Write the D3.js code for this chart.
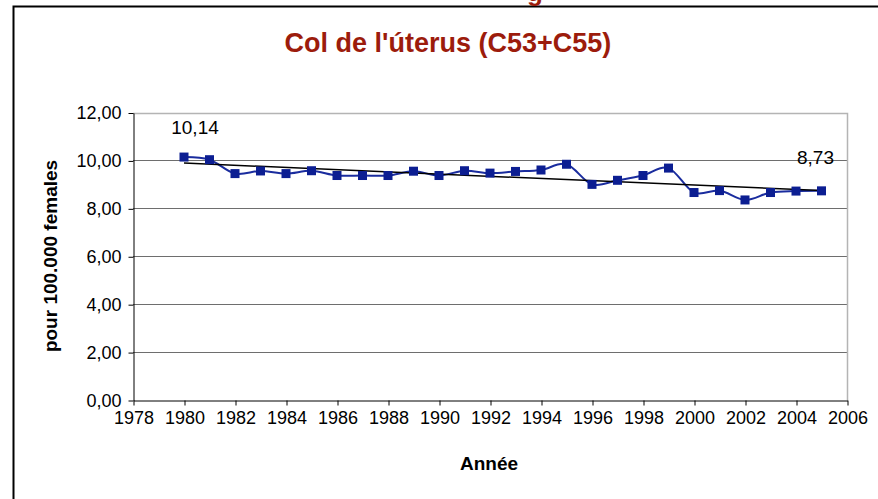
<!DOCTYPE html>
<html>
<head>
<meta charset="utf-8">
<script src="https://cdn.jsdelivr.net/npm/d3@7"></script>
<style>
  body { margin: 0; background: #fff; }
  svg { display: block; font-family: "Liberation Sans", Arial, sans-serif; }
</style>
</head>
<body>
<div id="container"></div>
<script>
// donnees
var annees = [1980, 1981, 1982, 1983, 1984, 1985, 1986, 1987, 1988, 1989, 1990, 1991, 1992,
  1993, 1994, 1995, 1996, 1997, 1998, 1999, 2000, 2001, 2002, 2003, 2004, 2005]
var taux = [10.14, 10.03, 9.45, 9.56, 9.45, 9.57, 9.37, 9.37, 9.37, 9.55, 9.37, 9.57, 9.47,
  9.54, 9.60, 9.84, 9.00, 9.17, 9.37, 9.68, 8.66, 8.74, 8.35, 8.66, 8.72, 8.73]
// tendance (extremites lues)
var tendanceAnnees = [1980, 2005]
var tendanceValeurs = [9.89, 8.74]
var ticksY = [0, 2, 4, 6, 8, 10, 12]
var ticksX = [1978, 1980, 1982, 1984, 1986, 1988, 1990, 1992, 1994, 1996, 1998, 2000, 2002, 2004, 2006]

var ancho = 878
var alto = 499
var fmt = function(v) { return d3.format(".2f")(v).replace(".", ",") }

var svg = d3.select("#container").append("svg")
  .attr("width", ancho)
  .attr("height", alto)

// cadre exterieur
svg.append("path")
  .attr("d", "M13.5," + alto + "V6.5H" + ancho)
  .attr("fill", "none")
  .attr("stroke", "#000")
  .attr("stroke-width", 2)

// morceau du titre precedent, coupe
svg.append("text")
  .attr("x", 535).attr("y", 1)
  .attr("text-anchor", "middle")
  .attr("font-size", 26).attr("font-weight", "bold")
  .attr("fill", "#9c1c0c")
  .text("g")

svg.append("text")
  .attr("x", 448).attr("y", 52)
  .attr("text-anchor", "middle")
  .attr("font-size", 27).attr("font-weight", "bold")
  .attr("fill", "#9c1c0c")
  .text("Col de l'úterus (C53+C55)")

var x = d3.scaleLinear().domain([1978, 2006]).range([133, 847])
var y = d3.scaleLinear().domain([0, 12]).range([400, 112.5])

// grille
svg.append("g").selectAll("line")
  .data(ticksY.filter(function(d) { return d > 0 && d < 12 }))
  .enter().append("line")
  .attr("x1", x(1978)).attr("x2", x(2006))
  .attr("y1", function(d) { return Math.round(y(d)) + 0.5 })
  .attr("y2", function(d) { return Math.round(y(d)) + 0.5 })
  .attr("stroke", "#6e6e6e")

// bords haut et droit
svg.append("path")
  .attr("d", "M" + x(1978) + "," + (Math.round(y(12)) + 0.5) + "H" + (x(2006) + 0.5) + "V" + y(0))
  .attr("fill", "none")
  .attr("stroke", "#b4b4b4")
  .attr("stroke-width", 1.5)

var axeY = svg.append("g")
  .attr("transform", "translate(" + (x(1978) + 0.5) + ",0.5)")
  .call(d3.axisLeft(y).tickValues(ticksY).tickFormat(fmt).tickSizeInner(5).tickSizeOuter(0).tickPadding(7))
axeY.selectAll("text").attr("font-size", 18).attr("fill", "#000").attr("font-family", "Liberation Sans, Arial")
axeY.selectAll("line, path").attr("stroke", "#000")

var axeX = svg.append("g")
  .attr("transform", "translate(0.5," + (y(0) + 0.5) + ")")
  .call(d3.axisBottom(x).tickValues(ticksX).tickFormat(d3.format("d")).tickSizeInner(5).tickSizeOuter(0).tickPadding(6))
axeX.selectAll("text").attr("font-size", 18).attr("fill", "#000").attr("font-family", "Liberation Sans, Arial")
axeX.selectAll("line, path").attr("stroke", "#000")

svg.append("text")
  .attr("x", 489).attr("y", 470)
  .attr("text-anchor", "middle")
  .attr("font-size", 19).attr("font-weight", "bold")
  .text("Année")

svg.append("text")
  .attr("transform", "translate(57,256) rotate(-90)")
  .attr("text-anchor", "middle")
  .attr("font-size", 19).attr("font-weight", "bold")
  .text("pour 100.000 females")

var points = annees.map(function(a, i) { return [a, taux[i]] })

// serie lissee
svg.append("path")
  .datum(points)
  .attr("fill", "none")
  .attr("stroke", "#1a2c9e")
  .attr("stroke-width", 2)
  .attr("d", d3.line()
    .x(function(d) { return x(d[0]) })
    .y(function(d) { return y(d[1]) })
    .curve(d3.curveCardinal.tension(0)))

// tendance
svg.append("path")
  .datum(tendanceAnnees.map(function(a, i) { return [a, tendanceValeurs[i]] }))
  .attr("fill", "none")
  .attr("stroke", "#000")
  .attr("stroke-width", 1.5)
  .attr("d", d3.line()
    .x(function(d) { return x(d[0]) })
    .y(function(d) { return y(d[1]) }))

svg.append("g").selectAll("rect")
  .data(points)
  .enter().append("rect")
  .attr("x", function(d) { return x(d[0]) - 4.5 })
  .attr("y", function(d) { return y(d[1]) - 4.5 })
  .attr("width", 9).attr("height", 9)
  .attr("fill", "#0c1e92")

// etiquettes premier / dernier
var premier = points[0], dernier = points[points.length - 1]
svg.append("text")
  .attr("x", x(premier[0]) + 11).attr("y", y(premier[1]) - 23)
  .attr("text-anchor", "middle")
  .attr("font-size", 19)
  .text(fmt(premier[1]))
svg.append("text")
  .attr("x", x(dernier[0]) - 6).attr("y", y(dernier[1]) - 27)
  .attr("text-anchor", "middle")
  .attr("font-size", 19)
  .text(fmt(dernier[1]))
</script>
</body>
</html>
